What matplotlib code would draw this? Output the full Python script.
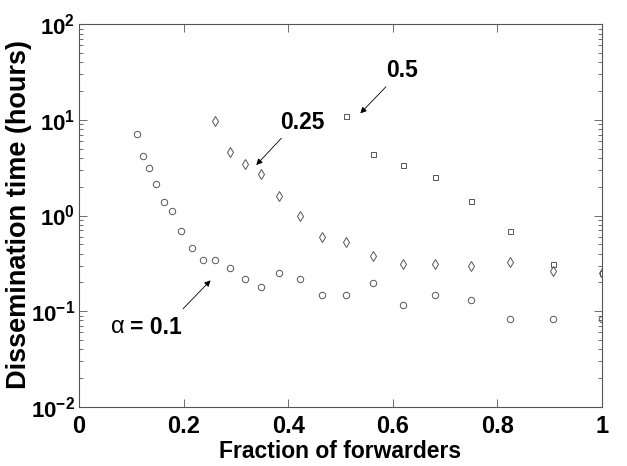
import numpy as np
import matplotlib
matplotlib.use("Agg")
import matplotlib.pyplot as plt
from matplotlib.ticker import LogLocator, FixedLocator, NullFormatter, FuncFormatter

plt.rcParams['font.family'] = ['Liberation Sans', 'DejaVu Sans']
plt.rcParams['mathtext.fontset'] = 'custom'
plt.rcParams['mathtext.rm'] = 'Liberation Sans:bold'
plt.rcParams['mathtext.bf'] = 'Liberation Sans:bold'

# fraction of forwarders (x positions)
frac = [0.111, 0.122, 0.134, 0.148, 0.162, 0.178, 0.196, 0.217, 0.238, 0.261,
        0.288, 0.317, 0.348, 0.383, 0.422, 0.465, 0.511, 0.562, 0.619, 0.681,
        0.750, 0.824, 0.907, 1.0]

# alpha = 0.1 (circles)
t_01 = [7.1, 4.18, 3.15, 2.14, 1.40, 1.12, 0.684, 0.455, 0.346, 0.346,
        0.283, 0.215, 0.180, 0.249, 0.215, 0.148, 0.148, 0.197, 0.115, 0.148,
        0.131, 0.083, 0.083, 0.083]

# alpha = 0.25 (diamonds), starts at frac[9]
t_025 = [9.7, 4.57, 3.42, 2.73, 1.60, 0.99, 0.597, 0.53, 0.381, 0.314,
         0.314, 0.299, 0.324, 0.263, 0.25]

# alpha = 0.5 (squares), starts at frac[16]
t_05 = [11.0, 4.35, 3.36, 2.50, 1.41, 0.684, 0.314, 0.25]

fig = plt.figure(figsize=(6.27, 4.66), dpi=100)
ax = fig.add_axes([0.126, 0.127, 0.834, 0.821])

mc = '#555555'
ax.plot(frac, t_01, 'o', ms=4.6, mfc='none', mec=mc, mew=0.7)
ax.plot(frac[9:], t_025, 'd', ms=5.0, mfc='none', mec=mc, mew=0.7)
ax.plot(frac[16:], t_05, 's', ms=3.6, mfc='none', mec=mc, mew=0.7)

ax.set_yscale('log')
ax.set_xlim(0, 1)
ax.set_ylim(1e-2, 1e2)
ax.xaxis.set_major_locator(FixedLocator([0, 0.2, 0.4, 0.6, 0.8, 1.0]))
ax.set_xticklabels(['0', '0.2', '0.4', '0.6', '0.8', '1'])
ax.yaxis.set_major_locator(LogLocator(base=10, numticks=10))
ax.yaxis.set_major_formatter(FuncFormatter(lambda v, p: '10$^{%d}$' % round(np.log10(v))))
ax.yaxis.set_minor_locator(LogLocator(base=10, subs=np.arange(2, 10), numticks=20))
ax.yaxis.set_minor_formatter(NullFormatter())

ax.tick_params(which='both', direction='in', top=True, right=True, color=mc,
               width=0.6, labelsize=17)
ax.tick_params(axis='x', pad=6)
ax.tick_params(axis='y', pad=3, labelsize=16)
ax.tick_params(which='major', length=6)
ax.tick_params(which='minor', length=3)
for lab in ax.get_xticklabels() + ax.get_yticklabels():
    lab.set_fontweight('bold')
for s in ax.spines.values():
    s.set_color(mc)
    s.set_linewidth(0.8)

ax.set_xlabel('Fraction of forwarders', fontsize=16.5, fontweight='bold', labelpad=1)
ax.set_ylabel('Dissemination time (hours)', fontsize=19.5, fontweight='bold')
ax.yaxis.set_label_coords(-0.09, 0.503)

arr = dict(arrowstyle='-|>', lw=0.6, color='k', mutation_scale=9, shrinkA=0, shrinkB=0)
ax.text(0.618, 33.0, '0.5', fontsize=16.5, fontweight='bold', ha='center', va='center')
ax.annotate('', xy=(0.538, 11.7), xytext=(0.587, 22.2), arrowprops=arr)
ax.text(0.428, 9.5, '0.25', fontsize=16.5, fontweight='bold', ha='center', va='center')
ax.annotate('', xy=(0.339, 3.37), xytext=(0.387, 6.44), arrowprops=arr)
ax.text(0.075, 0.0676, '\u03b1', fontsize=17, ha='center', va='center')
ax.text(0.1465, 0.0676, '= 0.1', fontsize=16.5, fontweight='bold', ha='center', va='center')
ax.annotate('', xy=(0.2516, 0.21), xytext=(0.199, 0.106), arrowprops=arr)

fig.savefig('out.png', dpi=100)
